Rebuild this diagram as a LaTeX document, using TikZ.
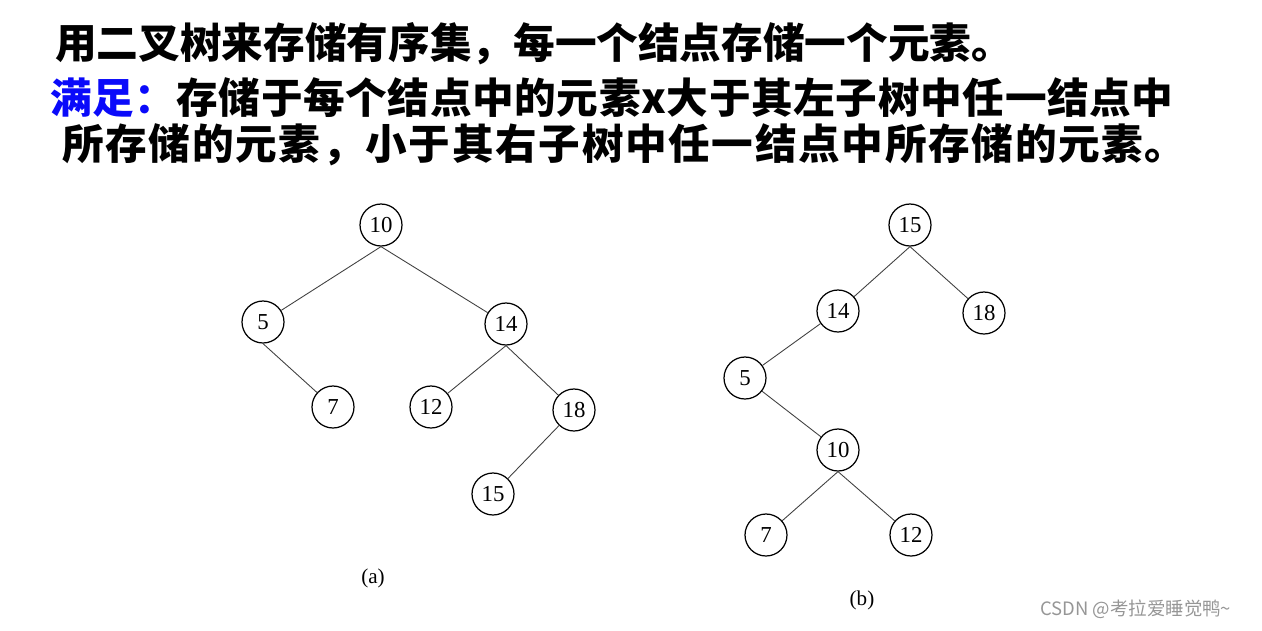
\documentclass[tikz,border=0pt]{standalone}
\usepackage{fontspec}
\setmainfont{Liberation Serif}
\newfontfamily\cjk{Noto Sans CJK SC}
\definecolor{azul}{RGB}{10,10,250}
\definecolor{marca}{RGB}{150,150,150}

\begin{document}
\begin{tikzpicture}[
    x=0.02cm, y=-0.02cm,
    % texto do enunciado
    linhatxt/.style={
        anchor=base west,
        inner sep=0pt,
        font=\cjk\bfseries\fontsize{23.7}{26}\selectfont
    },
    % nós das árvores
    no/.style={
        draw,
        circle,
        line width=0.7pt,
        fill=white,
        minimum size=0.84cm,
        inner sep=0pt,
        font=\fontsize{13}{15}\selectfont
    },
    legenda/.style={font=\fontsize{12}{14}\selectfont, inner sep=0pt},
    aresta/.style={draw, line width=0.5pt, black!75}
]
\useasboundingbox (0,0) rectangle (1262,630);

% ---- TEXTO ----
\node[linhatxt] (l1) at (55, 58) {用二叉树来存储有序集，每一个结点存储一个元素。};
\node[linhatxt] (l2) at (50, 113) {\addfontfeature{LetterSpace=1.5}\textcolor{azul}{满足：}存储于每个结点中的元素x大于其左子树中任一结点中};
\node[linhatxt] (l3) at (62, 159) {\addfontfeature{LetterSpace=4}所存储的元素，小于其右子树中任一结点中所存储的元素。};

% ---- ÁRVORE (a) ----
\node[no] (a10) at (381, 225) {10};
\node[no] (a5)  at (263, 322) {5};
\node[no] (a14) at (506, 324) {14};
\node[no] (a7)  at (333, 407) {7};
\node[no] (a12) at (431, 407) {12};
\node[no] (a18) at (574, 410) {18};
\node[no] (a15) at (493, 494) {15};

\draw[aresta] (a10.south) -- (a5);
\draw[aresta] (a10.south) -- (a14);
\draw[aresta] (a5.south)  -- (a7);
\draw[aresta] (a14.south) -- (a12);
\draw[aresta] (a14.south) -- (a18);
\draw[aresta] (a18) -- (a15);

\node[legenda] (capa) at (373, 578) {(a)};

% ---- ÁRVORE (b) ----
\node[no] (b15) at (910, 225) {15};
\node[no] (b14) at (838, 311) {14};
\node[no] (b18) at (984, 313) {18};
\node[no] (b5)  at (745, 378) {5};
\node[no] (b10) at (838, 450) {10};
\node[no] (b7)  at (766, 535) {7};
\node[no] (b12) at (911, 535) {12};

\draw[aresta] (b15.south) -- (b14);
\draw[aresta] (b15.south) -- (b18);
\draw[aresta] (b14) -- (b5);
\draw[aresta] (b5)  -- (b10);
\draw[aresta] (b10.south) -- (b7);
\draw[aresta] (b10.south) -- (b12);

\node[legenda] (capb) at (862, 600) {(b)};

% ---- MARCA D'ÁGUA ----
\node[anchor=base west, inner sep=0pt, text=marca, font=\cjk\fontsize{10.5}{12}\selectfont]
    (marca) at (1040, 615) {CSDN @考拉爱睡觉鸭\textasciitilde};

\end{tikzpicture}
\end{document}
